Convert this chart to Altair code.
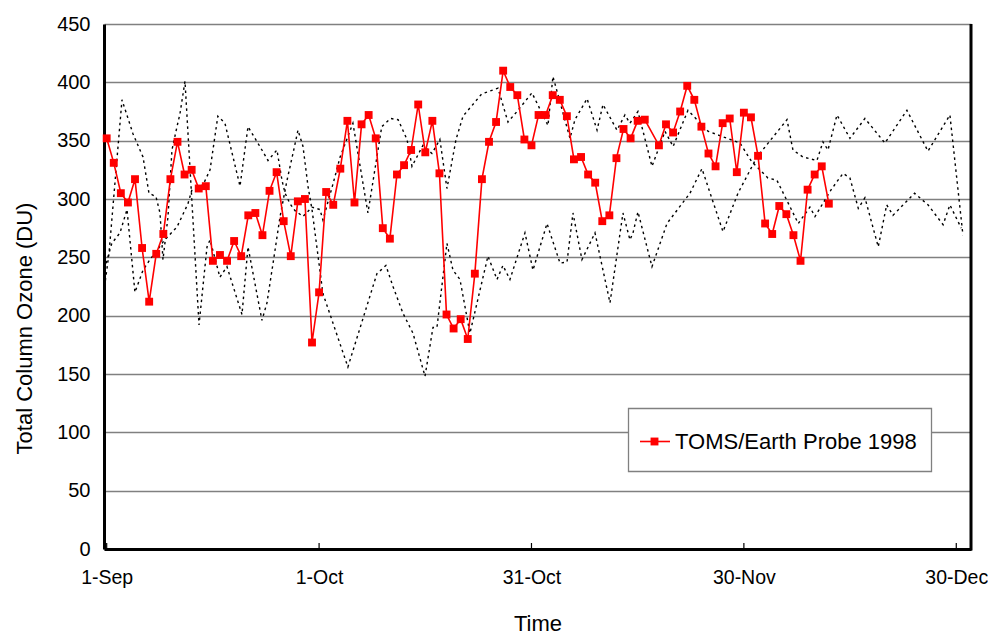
import altair as alt
import pandas as pd

# ---------------- data ----------------
# TOMS/Earth Probe 1998 daily values (day 0 = 1-Sep); day 77 missing
red_days = list(range(0, 77)) + list(range(78, 103))
red_vals = [352, 331, 305, 297, 317, 258, 212, 253, 270, 317,
            349, 321, 325, 309, 311, 247, 252, 247, 264, 251,
            286, 288, 269, 307, 323, 281, 251, 298, 300, 177,
            220, 306, 295, 326, 367, 297, 364, 372, 352, 275,
            266, 321, 329, 342, 381, 340, 367, 322, 201, 189,
            197, 180, 236, 317, 349, 366, 410, 396, 389, 351,
            346, 372, 372, 389, 385, 371, 334, 336, 321, 314,
            281, 286, 335, 360, 352, 367, 368,
            346, 364, 357, 375, 397, 385, 362, 339, 328, 365,
            369, 323, 374, 370, 337, 279, 270, 294, 287, 269,
            247, 308, 321, 328, 296]

# dotted comparison series A (vertices: day, value)
a_days = [-0.3, 0.32, 2.16, 3.71, 5.13, 5.97, 6.96, 7.53, 7.95, 8.66,
          9.22, 9.93, 10.35, 11.06, 13.04, 14.17, 14.6, 15.99, 16.99, 19.11,
          19.96, 21.93, 22.64, 23.5, 24.49, 25.47, 26.31, 27.02, 27.73, 28.43,
          29.0, 30.54, 34.07, 38.17, 39.44, 40.44, 41.85, 43.26, 44.96, 46.09,
          46.65, 48.06, 48.91, 49.9, 50.6, 51.31, 53.85, 55.13, 55.97, 56.96,
          59.08, 60.21, 62.19, 64.03, 65.02, 65.86, 67.13, 68.97, 71.09, 72.92,
          73.91, 74.34, 75.04, 77.02, 79.14, 82.39, 84.08, 87.05, 89.17, 91.85,
          96.09, 96.93, 98.35, 100.32, 101.17, 101.88, 103.15, 104.98, 107.1, 109.92,
          113.03, 116.0, 119.1, 120.94]
a_vals = [225, 253, 385, 356, 336, 305, 302, 288, 248, 285,
          342, 362, 373, 401, 192, 259, 265, 233, 242, 201,
          259, 196, 211, 245, 285, 316, 339, 359, 345, 311,
          291, 219, 156, 236, 243, 225, 202, 185, 148, 190,
          190, 262, 239, 231, 208, 185, 251, 231, 243, 231,
          271, 239, 279, 245, 246, 288, 248, 271, 211, 288,
          265, 271, 289, 242, 279, 305, 326, 272, 305, 336,
          368, 342, 336, 333, 349, 342, 372, 352, 369, 348,
          376, 341, 372, 269]

# dotted comparison series B (vertices: day, value)
b_days = [-0.3, 0.72, 1.88, 2.87, 3.99, 5.13, 6.1, 7.1, 8.2, 9.93,
          11.48, 12.05, 13.6, 14.6, 15.7, 16.7, 18.83, 19.96, 21.93, 22.78,
          24.05, 24.76, 25.19, 25.89, 26.6, 27.73, 29.0, 30.12, 30.54, 31.97,
          32.97, 34.78, 36.9, 38.85, 40.1, 41.16, 42.42, 43.12, 44.67, 45.94,
          47.06, 48.06, 49.34, 50.33, 52.96, 55.27, 56.68, 57.95, 60.07, 62.33,
          63.03, 65.44, 66.14, 67.85, 69.26, 70.1, 72.08, 73.2, 73.91, 75.04,
          77.02, 78.86, 80.0, 82.1, 84.96, 89.45, 91.1, 93.4, 94.67, 97.68,
          99.33, 100.04, 102.33, 104.0, 104.98, 106.16, 107.1, 108.98, 110.17, 111.06,
          114.1, 116.0, 118.14, 119.1, 120.7]
b_vals = [240, 262, 271, 291, 220, 239, 248, 256, 265, 276,
          296, 308, 312, 325, 371, 365, 311, 362, 342, 333,
          342, 316, 305, 296, 290, 285, 293, 291, 282, 313,
          336, 365, 288, 362, 369, 368, 351, 328, 346, 339,
          351, 309, 351, 371, 390, 395, 366, 375, 391, 363,
          405, 352, 368, 386, 359, 381, 359, 372, 365, 375,
          328, 358, 345, 376, 358, 348, 332, 318, 316, 279,
          293, 285, 308, 322, 318, 292, 301, 259, 295, 286,
          305, 295, 278, 295, 275]

x_tick_days = [0, 30, 60, 90, 120]
x_tick_labels = ["1-Sep", "1-Oct", "31-Oct", "30-Nov", "30-Dec"]
y_ticks = list(range(0, 451, 50))
legend_label = "TOMS/Earth Probe 1998"

# ---------------- build tables ----------------
red_df = pd.DataFrame({"day": red_days, "ozone": red_vals})
dot_df = pd.concat([
    pd.DataFrame({"day": a_days, "ozone": a_vals, "series": "A"}),
    pd.DataFrame({"day": b_days, "ozone": b_vals, "series": "B"}),
])
tick_df = pd.DataFrame({"day": x_tick_days})
leg_df = pd.DataFrame({"label": [legend_label]})

W, H = 867, 525
FONT = "Liberation Sans"

label_expr = " : ".join(
    f"datum.value == {d} ? '{l}'" for d, l in zip(x_tick_days, x_tick_labels)
) + " : ''"

x_scale = alt.Scale(domain=[-0.38, 122.08], nice=False, zero=False)
y_scale = alt.Scale(domain=[0, 450], nice=False, zero=True)

x_axis = alt.Axis(values=x_tick_days, labelExpr=label_expr, grid=False,
                  tickSize=0, domainColor="black", domainWidth=3,
                  labelFont=FONT, labelFontSize=19.5, labelColor="black",
                  labelPadding=19, labelFlush=False,
                  title="Time", titleFont=FONT, titleFontSize=22,
                  titleFontWeight="normal", titleColor="black",
                  titleY=74, titleBaseline="middle")
y_axis = alt.Axis(values=y_ticks, grid=True, gridColor="#808080", gridWidth=1.3,
                  tickSize=0, domainColor="black", domainWidth=3,
                  labelFont=FONT, labelFontSize=20, labelColor="black",
                  labelPadding=14,
                  title="Total Column Ozone (DU)", titleFont=FONT,
                  titleFontSize=22, titleFontWeight="normal", titleColor="black",
                  titleX=-80, titleY=304, titleAngle=-90, titleBaseline="middle",
                  titleAlign="center")

base_x = alt.X("day:Q", scale=x_scale, axis=x_axis)
base_y = alt.Y("ozone:Q", scale=y_scale, axis=y_axis)

dotted = alt.Chart(dot_df).mark_line(
    color="black", strokeWidth=1.4, strokeDash=[2.5, 3.5]
).encode(x=base_x, y=base_y, detail="series:N")

red_line = alt.Chart(red_df).mark_line(color="#FF0000", strokeWidth=1.6).encode(
    x=alt.X("day:Q", scale=x_scale), y=alt.Y("ozone:Q", scale=y_scale))
red_pts = alt.Chart(red_df).mark_point(
    shape="square", filled=True, size=62, color="#FF0000", opacity=1
).encode(x=alt.X("day:Q", scale=x_scale), y=alt.Y("ozone:Q", scale=y_scale))

xticks = alt.Chart(tick_df).mark_rule(color="black", strokeWidth=1.2).encode(
    x=alt.X("day:Q", scale=x_scale), y=alt.value(H), y2=alt.value(H - 6))

right_border = alt.Chart(leg_df).mark_rule(color="black", strokeWidth=3).encode(
    x=alt.value(W), y=alt.value(0), y2=alt.value(H + 1.5))

leg_box = alt.Chart(leg_df).mark_rect(
    fill="white", stroke="#808080", strokeWidth=1.3
).encode(x=alt.value(524.5), x2=alt.value(827.5), y=alt.value(384.5), y2=alt.value(447.5))
leg_line = alt.Chart(leg_df).mark_rule(color="#FF0000", strokeWidth=1.6).encode(
    x=alt.value(536), x2=alt.value(566), y=alt.value(417.5))
leg_pt = alt.Chart(leg_df).mark_point(
    shape="square", filled=True, size=62, color="#FF0000", opacity=1
).encode(x=alt.value(550.5), y=alt.value(417.5))
leg_text = alt.Chart(leg_df).mark_text(
    align="left", baseline="middle", font=FONT, fontSize=22, color="black"
).encode(x=alt.value(571), y=alt.value(417.5), text="label:N")

chart = alt.layer(
    dotted, red_line, red_pts, xticks, right_border,
    leg_box, leg_line, leg_pt, leg_text
).properties(
    width=W, height=H,
    autosize=alt.AutoSizeParams(type="none"),
    padding={"left": 96, "top": 16, "right": 17, "bottom": 88},
    background="white",
).configure_view(stroke=None)

chart.save("out.html", embed_options={"renderer": "svg", "actions": False})
